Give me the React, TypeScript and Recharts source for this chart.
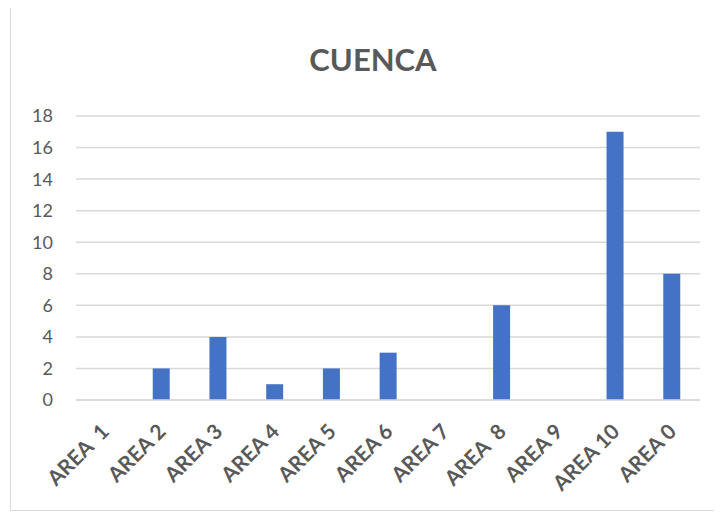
import { BarChart, Bar, XAxis, YAxis, CartesianGrid } from 'recharts'

const areas = ['AREA  1', 'AREA 2', 'AREA 3', 'AREA 4', 'AREA 5', 'AREA 6', 'AREA 7', 'AREA  8', 'AREA 9', 'AREA 10', 'AREA 0']
const counts = [0, 2, 4, 1, 2, 3, 0, 6, 0, 17, 8]
const yTicks = [0, 2, 4, 6, 8, 10, 12, 14, 16, 18]

const data = areas.map((area, i) => ({ area, count: counts[i] }))

const FONT = 'Lato, "Open Sans", sans-serif'

function AreaTick(props: any) {
  const { x, y, payload } = props
  const tx = x + 6
  const ty = y + 25
  return (
    <text
      x={tx}
      y={ty}
      transform={`rotate(-45, ${tx}, ${ty})`}
      textAnchor="end"
      fill="#595959"
      fontSize={21}
      fontWeight="bold"
      fontFamily={FONT}
      style={{ whiteSpace: 'pre' }}
    >
      {payload.value}
    </text>
  )
}

export default function App() {
  return (
    <div
      style={{
        position: 'relative',
        width: 703,
        height: 503,
        border: '1px solid #d9d9d9',
        marginLeft: 2,
        marginTop: -2,
        background: '#fff',
      }}
    >
      <div
        style={{
          position: 'absolute',
          top: 33,
          left: 0,
          width: 724,
          textAlign: 'center',
          fontFamily: FONT,
          fontWeight: 'bold',
          fontSize: 31,
          color: '#595959',
        }}
      >
        CUENCA
      </div>
      <BarChart width={703} height={503} data={data} margin={{ top: 109, right: 14, bottom: 0, left: 0 }}>
        <CartesianGrid vertical={false} stroke="#d9d9d9" strokeWidth={1.5} />
        <XAxis
          dataKey="area"
          interval={0}
          tick={<AreaTick />}
          tickLine={false}
          axisLine={{ stroke: '#d9d9d9', strokeWidth: 1.5 }}
          height={110}
        />
        <YAxis
          domain={[0, 18]}
          ticks={yTicks}
          interval={0}
          axisLine={false}
          tickLine={false}
          width={65}
          tick={{ fill: '#595959', fontSize: 18, fontFamily: FONT }}
          tickMargin={17}
        />
        <Bar dataKey="count" fill="#4472c4" barSize={17} isAnimationActive={false} />
      </BarChart>
    </div>
  )
}
